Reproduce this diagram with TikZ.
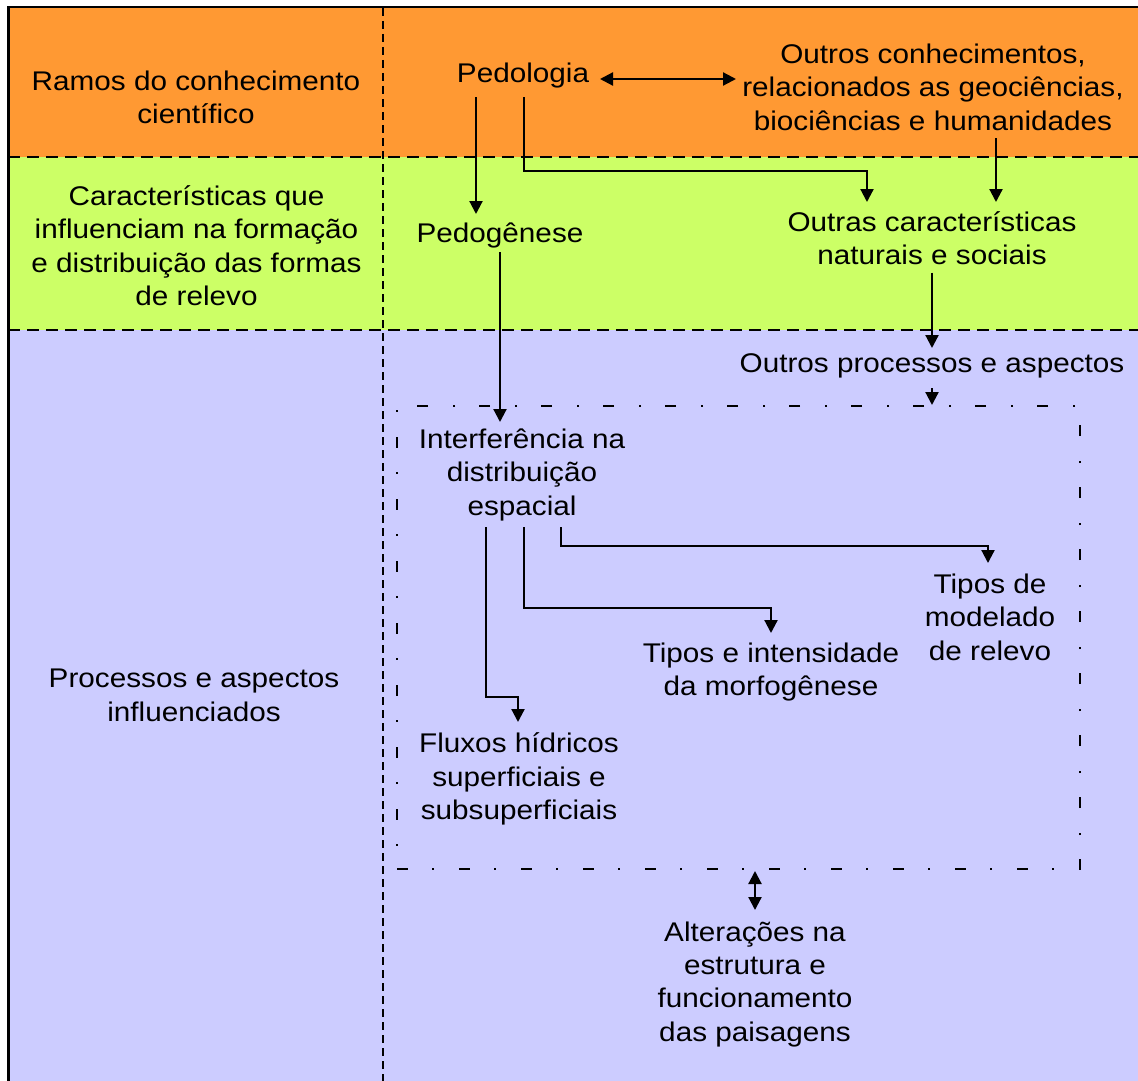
\documentclass[tikz,border=0pt]{standalone}
\usepackage{fontspec}
\setmainfont{Liberation Sans}[FakeStretch=1.1]
\usetikzlibrary{arrows.meta,calc}
\definecolor{bandorange}{RGB}{255,153,51}
\definecolor{bandgreen}{RGB}{204,255,102}
\definecolor{bandblue}{RGB}{204,204,255}
\tikzset{
  txt/.style={anchor=base,align=center,inner sep=0pt,font=\fontsize{27pt}{33.3pt}\selectfont},
  conn/.style={line width=2.2pt,-{Triangle[width=13pt,length=13pt]}},
  dconn/.style={line width=2.2pt,{Triangle[width=13pt,length=13pt]}-{Triangle[width=13pt,length=13pt]}},
  hsep/.style={line width=2pt,dash pattern=on 12pt off 7pt},
  vsep/.style={line width=2pt,dash pattern=on 8pt off 5pt},
  boxline/.style={line width=2pt,dash pattern=on 11pt off 24pt on 2pt off 25pt}
}
\begin{document}
\begin{tikzpicture}[x=1pt,y=-1pt]
\useasboundingbox (0,0) rectangle (1138,1081);
% bands
\fill[bandorange] (8,7) rectangle (1138,157);
\fill[bandgreen] (8,157) rectangle (1138,330);
\fill[bandblue] (8,330) rectangle (1138,1081);
\draw[line width=2.2pt] (1138,7) -- (8.5,7) -- (8.5,1081);
\draw[hsep] (8,157) -- (1138,157);
\draw[hsep] (8,330) -- (1138,330);
\draw[vsep] (383,8) -- (383,1081);
% left column (base = baseline of last line)
\node[txt] (ramos) at (196,123.3) {Ramos do conhecimento\\científico};
\node[txt] (caract) at (196.5,305.5) {Características que\\influenciam na formação\\e distribuição das formas\\de relevo};
\node[txt] (proc) at (194,721) {Processos e aspectos\\influenciados};
% main nodes
\node[txt] (ped) at (523,83) {Pedologia};
\node[txt] (outc) at (933,130) {Outros conhecimentos,\\relacionados as geociências,\\biociências e humanidades};
\node[txt] (pedog) at (500,242) {Pedogênese};
\node[txt] (outr) at (932,264.5) {Outras características\\naturais e sociais};
\node[txt] (outp) at (932,372) {Outros processos e aspectos};
\node[draw,boxline,minimum width=683pt,minimum height=463pt,inner sep=0pt] (box) at (738.5,637.5) {};
\node[txt] (interf) at (522,515) {Interferência na\\distribuição\\espacial};
\node[txt] (tmod) at (990,660) {Tipos de\\modelado\\de relevo};
\node[txt] (tint) at (771,695.5) {Tipos e intensidade\\da morfogênese};
\node[txt] (flux) at (519,819.5) {Fluxos hídricos\\superficiais e\\subsuperficiais};
\node[txt] (alter) at (755,1041) {Alterações na\\estrutura e\\funcionamento\\das paisagens};
% connectors
\draw[dconn] ($(ped.base)+(77,-4)$) -- ($(ped.base)+(213,-4)$);
\draw[conn] ($(ped.base)+(-47,14)$) -- ($(pedog.base)+(-24,-28)$);
\draw[conn] ($(ped.base)+(1,14)$) |- ($(outr.base)+(-65,-93.5)$) -- ($(outr.base)+(-65,-62.5)$);
\draw[conn] ($(outc.base)+(63,8)$) -- ($(outr.base)+(64,-62.5)$);
\draw[conn] ($(pedog.base)+(0,10)$) -- ($(interf.base)+(-22,-93)$);
\draw[conn] ($(outr.base)+(0,8)$) -- ($(outp.base)+(0,-24)$);
\draw[conn] ($(outp.base)+(0,16)$) -- (outp.base |- box.north);
\draw[conn] ($(interf.base)+(-36,12)$) |- ($(flux.base)+(-1,-122.5)$) -- ($(flux.base)+(-1,-97.5)$);
\draw[conn] ($(interf.base)+(2,12)$) |- ($(tint.base)+(0,-87.5)$) -- ($(tint.base)+(0,-62.5)$);
\draw[conn] ($(interf.base)+(39,12)$) |- ($(tmod.base)+(-2,-114)$) -- ($(tmod.base)+(-2,-97)$);
\draw[dconn] ($(alter.base |- box.south)+(0,1)$) -- ($(alter.base)+(0,-131)$);
\end{tikzpicture}
\end{document}
